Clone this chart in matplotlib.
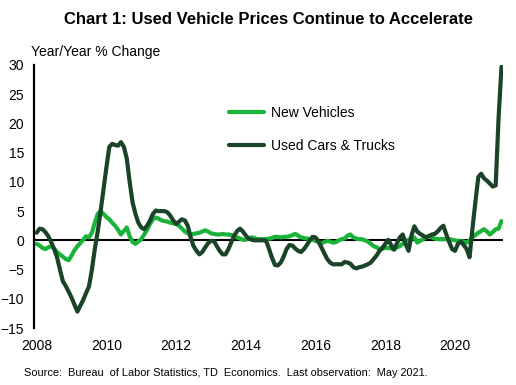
import numpy as np
import matplotlib
matplotlib.use('Agg')
import matplotlib.pyplot as plt

plt.rcParams['font.family'] = ['Liberation Sans', 'DejaVu Sans']

# monthly year/year % change, Jan 2008 - May 2021
new_vehicles = [
    -0.6, -0.9, -1.3, -1.5, -1.2, -1.0, -1.4, -2.0, -2.4, -2.8, -3.2, -3.4,   # 2008
    -2.6, -1.7, -1.0, -0.5, 0.1, 0.7, 0.5, 1.3, 3.0, 4.5, 5.0, 4.5,          # 2009
    4.0, 3.6, 3.0, 2.5, 1.8, 1.0, 1.6, 2.2, 0.7, -0.3, -0.6, -0.2,           # 2010
    0.2, 1.0, 1.8, 2.8, 3.6, 3.9, 3.7, 3.4, 3.3, 3.2, 3.0, 2.9,              # 2011
    2.8, 2.5, 2.0, 1.5, 1.2, 1.0, 1.1, 1.2, 1.3, 1.5, 1.7, 1.5,              # 2012
    1.2, 1.1, 1.0, 1.0, 1.1, 1.0, 1.0, 0.9, 0.8, 0.5, 0.3, 0.1,              # 2013
    0.1, 0.3, 0.5, 0.4, 0.2, 0.2, 0.2, 0.2, 0.3, 0.4, 0.6, 0.6,              # 2014
    0.5, 0.6, 0.6, 0.7, 0.9, 1.1, 0.8, 0.5, 0.4, 0.3, 0.2, 0.1,              # 2015
    -0.1, -0.3, -0.5, -0.3, -0.1, -0.2, -0.4, -0.3, 0.0, 0.2, 0.3, 0.8,      # 2016
    1.0, 0.5, 0.3, 0.2, 0.2, 0.0, -0.2, -0.6, -1.0, -1.2, -1.5, -1.4,        # 2017
    -1.3, -1.3, -1.4, -1.5, -1.2, -1.0, -0.6, -0.1, 0.1, 0.4, 0.5, -0.4,     # 2018
    -0.1, 0.2, 0.5, 0.8, 0.5, 0.3, 0.2, 0.2, 0.2, 0.2, 0.2, 0.1,             # 2019
    0.0, -0.1, -0.1, -0.2, -0.4, 0.0, 0.5, 0.9, 1.3, 1.6, 1.9, 1.5,          # 2020
    1.0, 1.4, 1.9, 2.0, 3.3,                                                 # 2021
]
used_cars = [
    1.3, 2.0, 1.9, 1.4, 0.7, -0.3, -1.5, -2.9, -5.0, -7.0, -7.8, -8.8,       # 2008
    -9.8, -11.0, -12.2, -11.2, -10.2, -9.0, -7.9, -5.0, -1.5, 1.5, 5.0, 8.8, # 2009
    12.5, 16.0, 16.5, 16.3, 16.2, 16.8, 16.0, 14.0, 10.0, 6.5, 4.5, 3.0,     # 2010
    2.2, 1.9, 2.5, 3.4, 4.5, 5.1, 5.0, 5.0, 5.0, 4.8, 4.2, 3.4,              # 2011
    2.8, 3.2, 3.6, 3.4, 2.5, 0.5, -1.0, -1.8, -2.4, -2.0, -1.2, -0.5,        # 2012
    -0.1, -0.1, -1.0, -1.8, -2.4, -2.4, -1.5, -0.3, 0.8, 1.6, 2.0, 1.5,      # 2013
    0.8, 0.3, 0.1, 0.0, 0.0, 0.0, 0.0, -0.1, -1.5, -3.0, -4.2, -4.3,         # 2014
    -3.8, -2.8, -1.5, -0.8, -0.9, -1.4, -1.8, -2.0, -1.5, -0.8, 0.0, 0.6,    # 2015
    0.5, -0.2, -1.2, -2.2, -3.2, -3.8, -4.1, -4.1, -4.1, -4.1, -3.7, -3.8,   # 2016
    -4.0, -4.6, -4.8, -4.6, -4.5, -4.3, -4.1, -3.8, -3.2, -2.6, -1.8, -1.3,  # 2017
    -0.6, 0.1, -0.8, -1.6, -0.5, 0.5, 1.0, -0.6, -1.8, 0.8, 2.4, 1.5,        # 2018
    1.1, 0.8, 0.5, 0.7, 1.0, 1.1, 1.5, 2.1, 2.5, 1.0, -0.3, -1.5,            # 2019
    -1.8, -0.6, -0.2, -0.8, -1.5, -2.9, 2.0, 6.5, 10.8, 11.4, 10.6, 10.2,    # 2020
    9.7, 9.2, 9.4, 21.0, 29.7,                                               # 2021
]
series_names = ['New Vehicles', 'Used Cars & Trucks']
year_ticks = [2008, 2010, 2012, 2014, 2016, 2018, 2020]

t = 2008 + np.arange(len(used_cars)) / 12.0

fig = plt.figure(figsize=(5.16, 3.85), dpi=100)
ax = fig.add_axes([34/516, 1 - 328/385, 469/516, 263/385])

ax.axhline(0, color='black', lw=1.5, zorder=1)
ax.plot(t, new_vehicles, color='#19b33a', lw=3.0, label=series_names[0], zorder=2,
        solid_capstyle='round', solid_joinstyle='round')
ax.plot(t, used_cars, color='#1a4328', lw=3.0, label=series_names[1], zorder=3,
        solid_capstyle='round', solid_joinstyle='round')

ax.set_xlim(2008 - 2.7/34.86, 2008 - 2.7/34.86 + 469/34.86)
ax.set_ylim(-15, 30)
ax.set_yticks(range(-15, 31, 5))
ax.set_xticks(year_ticks)
ax.set_xticklabels([str(y) for y in year_ticks])
ax.tick_params(axis='both', length=0, labelsize=10, colors='black')
ax.tick_params(axis='x', pad=8)
ax.tick_params(axis='y', pad=7)

for s in ['top', 'right', 'bottom']:
    ax.spines[s].set_visible(False)
ax.spines['left'].set_linewidth(1.6)
ax.spines['left'].set_color('black')

ax.legend(loc='upper left', bbox_to_anchor=(229/516, 1 - 106/385),
          bbox_transform=fig.transFigure, frameon=False, fontsize=10,
          handlelength=2.5, handletextpad=0.55, labelspacing=1.35,
          borderpad=0, borderaxespad=0)

fig.text(268/516, 1 - 20/385, 'Chart 1: Used Vehicle Prices Continue to Accelerate',
         ha='center', va='center', fontsize=12, fontweight='bold')
fig.text(31/516, 1 - 52/385, 'Year/Year % Change', ha='left', va='center', fontsize=10)
fig.text(226/516, 1 - 373/385,
         'Source:  Bureau  of Labor Statistics, TD  Economics.  Last observation:  May 2021.',
         ha='center', va='center', fontsize=7.9)

fig.savefig('out.png', dpi=100)
